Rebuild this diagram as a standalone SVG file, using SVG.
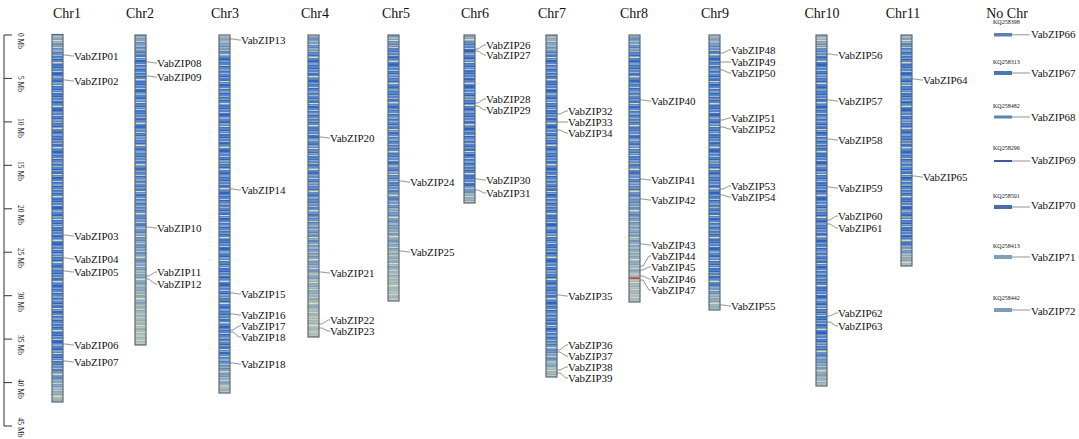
<svg xmlns="http://www.w3.org/2000/svg" xmlns:xlink="http://www.w3.org/1999/xlink" width="1079" height="439" viewBox="0 0 1079 439">
<style>
text{font-family:"Liberation Serif","Times New Roman",serif;fill:#111}
.chr{font-size:14px;text-anchor:middle}
.g{font-size:11px}
.kq{font-size:6px}
.ax{font-size:7.5px;text-anchor:middle}
.chrom{stroke:#5a6878;stroke-width:1.2}
.lead{fill:none;stroke:#666;stroke-width:0.7}
.axis{stroke:#333;stroke-width:1;fill:none}
.L{fill:#7fa2cc}.B{fill:#3d72c8}.D{fill:#2c64c6}.G{fill:#9fb2c2}.Y{fill:#dcdaae}.W{fill:#b9c8d2}
</style>
<defs>
<pattern id="p0" patternUnits="userSpaceOnUse" x="0" y="0" width="20" height="134">
<rect width="20" height="134" fill="#5585c6"/>
<rect class="L" y="0" width="20" height="2"/>
<rect class="B" y="2" width="20" height="1"/>
<rect class="D" y="5" width="20" height="1"/>
<rect class="L" y="6" width="20" height="1"/>
<rect class="G" y="9" width="20" height="1"/>
<rect class="B" y="10" width="20" height="2"/>
<rect class="Y" y="13" width="20" height="1"/>
<rect class="L" y="14" width="20" height="1"/>
<rect class="D" y="17" width="20" height="2"/>
<rect class="L" y="20" width="20" height="1"/>
<rect class="B" y="21" width="20" height="1"/>
<rect class="W" y="24" width="20" height="1"/>
<rect class="D" y="25" width="20" height="1"/>
<rect class="L" y="28" width="20" height="2"/>
<rect class="B" y="30" width="20" height="1"/>
<rect class="G" y="32" width="20" height="1"/>
<rect class="D" y="35" width="20" height="1"/>
<rect class="L" y="36" width="20" height="1"/>
<rect class="B" y="38" width="20" height="2"/>
<rect class="Y" y="40" width="20" height="1"/>
<rect class="L" y="42" width="20" height="1"/>
<rect class="D" y="43" width="20" height="2"/>
<rect class="W" y="47" width="20" height="1"/>
<rect class="B" y="48" width="20" height="1"/>
<rect class="L" y="50" width="20" height="2"/>
<rect class="D" y="52" width="20" height="1"/>
<rect class="G" y="55" width="20" height="1"/>
<rect class="B" y="56" width="20" height="1"/>
<rect class="L" y="58" width="20" height="1"/>
<rect class="D" y="59" width="20" height="1"/>
<rect class="Y" y="62" width="20" height="1"/>
<rect class="L" y="63" width="20" height="1"/>
<rect class="B" y="64" width="20" height="2"/>
<rect class="D" y="67" width="20" height="1"/>
<rect class="L" y="68" width="20" height="1"/>
<rect class="W" y="71" width="20" height="1"/>
<rect class="B" y="72" width="20" height="1"/>
<rect class="D" y="73" width="20" height="2"/>
<rect class="L" y="76" width="20" height="1"/>
<rect class="G" y="77" width="20" height="1"/>
<rect class="B" y="80" width="20" height="1"/>
<rect class="D" y="81" width="20" height="1"/>
<rect class="L" y="82" width="20" height="2"/>
<rect class="Y" y="85" width="20" height="1"/>
<rect class="B" y="86" width="20" height="1"/>
<rect class="D" y="89" width="20" height="1"/>
<rect class="L" y="90" width="20" height="1"/>
<rect class="W" y="92" width="20" height="1"/>
<rect class="B" y="93" width="20" height="2"/>
<rect class="D" y="96" width="20" height="1"/>
<rect class="L" y="97" width="20" height="1"/>
<rect class="G" y="100" width="20" height="1"/>
<rect class="B" y="101" width="20" height="1"/>
<rect class="D" y="102" width="20" height="1"/>
<rect class="L" y="105" width="20" height="1"/>
<rect class="Y" y="106" width="20" height="1"/>
<rect class="B" y="108" width="20" height="1"/>
<rect class="D" y="109" width="20" height="2"/>
<rect class="L" y="112" width="20" height="1"/>
<rect class="W" y="115" width="20" height="1"/>
<rect class="B" y="116" width="20" height="1"/>
<rect class="D" y="118" width="20" height="1"/>
<rect class="L" y="119" width="20" height="2"/>
<rect class="G" y="122" width="20" height="1"/>
<rect class="B" y="123" width="20" height="1"/>
<rect class="D" y="126" width="20" height="1"/>
<rect class="L" y="127" width="20" height="1"/>
<rect class="Y" y="128" width="20" height="1"/>
<rect class="B" y="131" width="20" height="1"/>
<rect class="D" y="132" width="20" height="1"/>
</pattern>
<pattern id="p1" xlink:href="#p0" patternTransform="translate(0,17)"/>
<pattern id="p2" xlink:href="#p0" patternTransform="translate(0,41)"/>
<pattern id="p3" xlink:href="#p0" patternTransform="translate(0,63)"/>
<pattern id="p4" xlink:href="#p0" patternTransform="translate(0,89)"/>
<pattern id="p5" xlink:href="#p0" patternTransform="translate(0,111)"/>
<linearGradient id="ends" x1="0" y1="0" x2="0" y2="1">
<stop offset="0" stop-color="#e6e2ae" stop-opacity="0.55"/>
<stop offset="0.07" stop-color="#e6e2ae" stop-opacity="0"/>
<stop offset="0.88" stop-color="#e6e2ae" stop-opacity="0"/>
<stop offset="1" stop-color="#e6e2ae" stop-opacity="0.6"/>
</linearGradient>
<linearGradient id="paleLow" x1="0" y1="0" x2="0" y2="1">
<stop offset="0" stop-color="#e6e2ae" stop-opacity="0.4"/>
<stop offset="0.08" stop-color="#e6e2ae" stop-opacity="0"/>
<stop offset="0.55" stop-color="#e6e2ae" stop-opacity="0.1"/>
<stop offset="1" stop-color="#e6e2ae" stop-opacity="0.65"/>
</linearGradient>
</defs>

<g id="axis">
<path class="axis" d="M4 35V426M4 35H12M4 78.4H12M4 121.9H12M4 165.3H12M4 208.8H12M4 252.2H12M4 295.7H12M4 339.1H12M4 382.6H12M4 426H12"/>
<g class="ax">
<text transform="translate(18,41) rotate(90)">0 Mb</text>
<text transform="translate(18,84) rotate(90)">5 Mb</text>
<text transform="translate(18,128) rotate(90)">10 Mb</text>
<text transform="translate(18,171) rotate(90)">15 Mb</text>
<text transform="translate(18,215) rotate(90)">20 Mb</text>
<text transform="translate(18,258) rotate(90)">25 Mb</text>
<text transform="translate(18,302) rotate(90)">30 Mb</text>
<text transform="translate(18,345) rotate(90)">35 Mb</text>
<text transform="translate(18,389) rotate(90)">40 Mb</text>
<text transform="translate(18,427.5) rotate(90)">45 Mb</text>
</g>
</g>

<g id="chr-labels" class="chr">
<text x="67" y="18">Chr1</text>
<text x="140" y="18">Chr2</text>
<text x="225" y="18">Chr3</text>
<text x="315" y="18">Chr4</text>
<text x="396" y="18">Chr5</text>
<text x="475" y="18">Chr6</text>
<text x="552" y="18">Chr7</text>
<text x="634" y="18">Chr8</text>
<text x="715" y="18">Chr9</text>
<text x="822" y="18">Chr10</text>
<text x="903" y="18">Chr11</text>
<text x="1007" y="18">No Chr</text>
</g>

<g id="chr1">
<rect x="52" y="34.5" width="11" height="367.5" fill="url(#p0)"/>
<rect x="52" y="34.5" width="11" height="367.5" fill="url(#ends)" class="chrom"/>
</g>
<g id="chr2">
<rect x="135" y="35" width="11" height="310" fill="url(#p1)"/>
<rect x="135" y="35" width="11" height="310" fill="url(#paleLow)" class="chrom"/>
</g>
<g id="chr3">
<rect x="219" y="35" width="11" height="358" fill="url(#p2)"/>
<rect x="219" y="35" width="11" height="358" fill="url(#ends)" class="chrom"/>
</g>
<g id="chr4">
<rect x="308" y="35" width="11" height="302" fill="url(#p3)"/>
<rect x="308" y="35" width="11" height="302" fill="url(#paleLow)" class="chrom"/>
</g>
<g id="chr5">
<rect x="388" y="35" width="11" height="266" fill="url(#p4)"/>
<rect x="388" y="35" width="11" height="266" fill="url(#paleLow)" class="chrom"/>
</g>
<g id="chr6">
<rect x="464" y="35" width="11" height="168" fill="url(#p5)"/>
<rect x="464" y="35" width="11" height="168" fill="url(#ends)" class="chrom"/>
</g>
<g id="chr7">
<rect x="546" y="35" width="11" height="342" fill="url(#p1)"/>
<rect x="546" y="35" width="11" height="342" fill="url(#ends)" class="chrom"/>
</g>
<g id="chr8">
<rect x="629" y="35" width="11" height="267" fill="url(#p3)"/>
<rect x="629" y="35" width="11" height="267" fill="url(#paleLow)" class="chrom"/>
<rect x="629.6" y="277.5" width="9.8" height="1.6" fill="#e03333"/>
</g>
<g id="chr9">
<rect x="709" y="35" width="11" height="275" fill="url(#p2)"/>
<rect x="709" y="35" width="11" height="275" fill="url(#ends)" class="chrom"/>
</g>
<g id="chr10">
<rect x="816" y="35" width="11" height="351" fill="url(#p4)"/>
<rect x="816" y="35" width="11" height="351" fill="url(#ends)" class="chrom"/>
</g>
<g id="chr11">
<rect x="901" y="35" width="11" height="231" fill="url(#p0)"/>
<rect x="901" y="35" width="11" height="231" fill="url(#ends)" class="chrom"/>
</g>

<g id="nochr">
<g id="kq258398"><text class="kq" x="993" y="24">KQ258398</text><rect x="994" y="33" width="18" height="3.5" fill="#5b7fb5"/></g>
<g id="kq258313"><text class="kq" x="993" y="64">KQ258313</text><rect x="994" y="71" width="18" height="4" fill="#4a78b4"/></g>
<g id="kq258482"><text class="kq" x="993" y="108">KQ258482</text><rect x="994" y="115.5" width="18" height="3" fill="#5a84b4"/></g>
<g id="kq258296"><text class="kq" x="993" y="150">KQ258296</text><rect x="994" y="160" width="18" height="2" fill="#3a5c9c"/></g>
<g id="kq258501"><text class="kq" x="993" y="198">KQ258501</text><rect x="994" y="205" width="18" height="4" fill="#4c6ea4"/></g>
<g id="kq258413"><text class="kq" x="993" y="248">KQ258413</text><rect x="994" y="255" width="18" height="4" fill="#7f9fbb"/></g>
<g id="kq258442"><text class="kq" x="993" y="300">KQ258442</text><rect x="994" y="308" width="18" height="4" fill="#7d9cba"/></g>
</g>

<g id="connectors" class="lead">
<path d="M63 55H66L72 56H74"/>
<path d="M63 80H66L72 81H74"/>
<path d="M63 235H66L72 236H74"/>
<path d="M63 258H66L72 259H74"/>
<path d="M63 271H66L72 272H74"/>
<path d="M63 344H66L72 345H74"/>
<path d="M63 361H66L72 362H74"/>
<path d="M146 62H149L155 63H157"/>
<path d="M146 76H149L155 77H157"/>
<path d="M146 227H149L155 228H157"/>
<path d="M146 276H149L155 272H157"/>
<path d="M146 279H149L155 284H157"/>
<path d="M230 39H233L239 40H241"/>
<path d="M230 189H233L239 190H241"/>
<path d="M230 293H233L239 294H241"/>
<path d="M230 314H233L239 315H241"/>
<path d="M230 330H233L239 326H241"/>
<path d="M230 332H233L239 337H241"/>
<path d="M230 363H233L239 364H241"/>
<path d="M319 137H322L328 138H330"/>
<path d="M319 272H322L328 273H330"/>
<path d="M319 324H322L328 320H330"/>
<path d="M319 328H322L328 331H330"/>
<path d="M399 181H402L408 182H410"/>
<path d="M399 251H402L408 252H410"/>
<path d="M475 49H478L484 45H486"/>
<path d="M475 51H478L484 55H486"/>
<path d="M475 103H478L484 99H486"/>
<path d="M475 106H478L484 110H486"/>
<path d="M475 179H478L484 180H486"/>
<path d="M475 190H478L484 193H486"/>
<path d="M557 114H560L566 111H568"/>
<path d="M557 122H560L566 122H568"/>
<path d="M557 130H560L566 133H568"/>
<path d="M557 295H560L566 296H568"/>
<path d="M557 350H560L566 345H568"/>
<path d="M557 352H560L566 356H568"/>
<path d="M557 370H560L566 367H568"/>
<path d="M557 373H560L566 378H568"/>
<path d="M640 100H643L649 101H651"/>
<path d="M640 179H643L649 180H651"/>
<path d="M640 199H643L649 200H651"/>
<path d="M640 244H643L649 245H651"/>
<path d="M640 266H643L649 256H651"/>
<path d="M640 270H643L649 267H651"/>
<path d="M640 276H643L649 279H651"/>
<path d="M640 280H643L649 290H651"/>
<path d="M720 53H723L729 50H731"/>
<path d="M720 62H723L729 62H731"/>
<path d="M720 70H723L729 73H731"/>
<path d="M720 120H723L729 118H731"/>
<path d="M720 127H723L729 129H731"/>
<path d="M720 189H723L729 186H731"/>
<path d="M720 195H723L729 197H731"/>
<path d="M720 305H723L729 306H731"/>
<path d="M827 54H830L836 55H838"/>
<path d="M827 100H830L836 101H838"/>
<path d="M827 139H830L836 140H838"/>
<path d="M827 187H830L836 188H838"/>
<path d="M827 220H830L836 216H838"/>
<path d="M827 224H830L836 228H838"/>
<path d="M827 316H830L836 313H838"/>
<path d="M827 322H830L836 326H838"/>
<path d="M912 79H915L921 80H923"/>
<path d="M912 176H915L921 177H923"/>
<path d="M1012 34.8H1030"/>
<path d="M1012 73H1030"/>
<path d="M1012 117H1030"/>
<path d="M1012 161H1030"/>
<path d="M1012 207H1030"/>
<path d="M1012 257H1030"/>
<path d="M1012 310H1030"/>
</g>

<g id="gene-labels" class="g">
<text x="74" y="60">VabZIP01</text>
<text x="74" y="85">VabZIP02</text>
<text x="74" y="240">VabZIP03</text>
<text x="74" y="263">VabZIP04</text>
<text x="74" y="276">VabZIP05</text>
<text x="74" y="349">VabZIP06</text>
<text x="74" y="366">VabZIP07</text>
<text x="157" y="67">VabZIP08</text>
<text x="157" y="81">VabZIP09</text>
<text x="157" y="232">VabZIP10</text>
<text x="157" y="276">VabZIP11</text>
<text x="157" y="288">VabZIP12</text>
<text x="241" y="44">VabZIP13</text>
<text x="241" y="194">VabZIP14</text>
<text x="241" y="298">VabZIP15</text>
<text x="241" y="319">VabZIP16</text>
<text x="241" y="330">VabZIP17</text>
<text x="241" y="341">VabZIP18</text>
<text x="241" y="368">VabZIP18</text>
<text x="330" y="142">VabZIP20</text>
<text x="330" y="277">VabZIP21</text>
<text x="330" y="324">VabZIP22</text>
<text x="330" y="335">VabZIP23</text>
<text x="410" y="186">VabZIP24</text>
<text x="410" y="256">VabZIP25</text>
<text x="486" y="49">VabZIP26</text>
<text x="486" y="59">VabZIP27</text>
<text x="486" y="103">VabZIP28</text>
<text x="486" y="114">VabZIP29</text>
<text x="486" y="184">VabZIP30</text>
<text x="486" y="197">VabZIP31</text>
<text x="568" y="115">VabZIP32</text>
<text x="568" y="126">VabZIP33</text>
<text x="568" y="137">VabZIP34</text>
<text x="568" y="300">VabZIP35</text>
<text x="568" y="349">VabZIP36</text>
<text x="568" y="360">VabZIP37</text>
<text x="568" y="371">VabZIP38</text>
<text x="568" y="382">VabZIP39</text>
<text x="651" y="105">VabZIP40</text>
<text x="651" y="184">VabZIP41</text>
<text x="651" y="204">VabZIP42</text>
<text x="651" y="249">VabZIP43</text>
<text x="651" y="260">VabZIP44</text>
<text x="651" y="271">VabZIP45</text>
<text x="651" y="283">VabZIP46</text>
<text x="651" y="294">VabZIP47</text>
<text x="731" y="54">VabZIP48</text>
<text x="731" y="66">VabZIP49</text>
<text x="731" y="77">VabZIP50</text>
<text x="731" y="122">VabZIP51</text>
<text x="731" y="133">VabZIP52</text>
<text x="731" y="190">VabZIP53</text>
<text x="731" y="201">VabZIP54</text>
<text x="731" y="310">VabZIP55</text>
<text x="838" y="59">VabZIP56</text>
<text x="838" y="105">VabZIP57</text>
<text x="838" y="144">VabZIP58</text>
<text x="838" y="192">VabZIP59</text>
<text x="838" y="220">VabZIP60</text>
<text x="838" y="232">VabZIP61</text>
<text x="838" y="317">VabZIP62</text>
<text x="838" y="330">VabZIP63</text>
<text x="923" y="84">VabZIP64</text>
<text x="923" y="181">VabZIP65</text>
<text x="1031" y="38">VabZIP66</text>
<text x="1031" y="77">VabZIP67</text>
<text x="1031" y="121">VabZIP68</text>
<text x="1031" y="164">VabZIP69</text>
<text x="1031" y="209">VabZIP70</text>
<text x="1031" y="261">VabZIP71</text>
<text x="1031" y="315">VabZIP72</text>
</g>
</svg>
